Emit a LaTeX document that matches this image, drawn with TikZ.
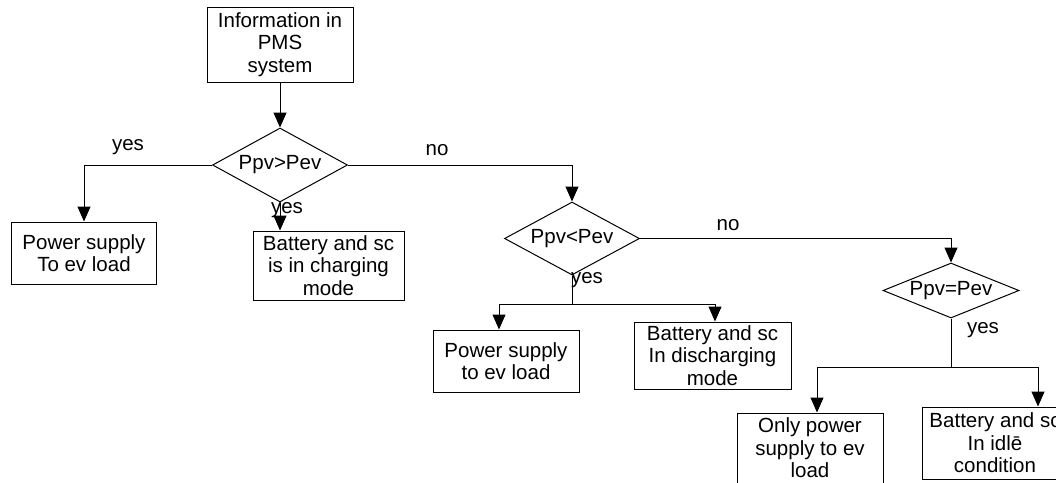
\documentclass[tikz,border=0pt]{standalone}
\usepackage{fontspec}
\setmainfont{Liberation Sans}
\usetikzlibrary{arrows.meta,shapes.geometric}

\begin{document}
\begin{tikzpicture}[x=1pt,y=-1pt,line width=1pt,
    every node/.style={font=\fontsize{20.5}{22.5}\selectfont},
    box/.style={draw,align=center,inner sep=0pt},
    dec/.style={draw,diamond,inner sep=0pt},
    arr/.style={-{Triangle[length=15pt,width=13pt]}}]
    \useasboundingbox (0,0) rectangle (1056,482);

    % Start box
    \node[box,minimum width=146pt,minimum height=75pt] (info) at (280,44.5) {Information in\\PMS\\system};

    % Decisions
    \node[dec,aspect=1.8,minimum width=135pt,minimum height=74pt] (d1) at (280,165) {Ppv>Pev};
    \node[dec,aspect=1.85,minimum width=135pt,minimum height=73pt] (d2) at (572,238.5) {Ppv<Pev};
    \node[dec,aspect=2.45,minimum width=136pt,minimum height=55pt] (d3) at (951,290.5) {Ppv=Pev};

    % Outcome boxes
    \node[box,minimum width=145pt,minimum height=62pt] (b2) at (84,253) {Power supply\\To ev load};
    \node[box,minimum width=151pt,minimum height=69pt] (b3) at (328.5,265.5) {Battery and sc\\is in charging\\mode};
    \node[box,minimum width=146pt,minimum height=62pt] (b4) at (506,361) {Power supply\\to ev load};
    \node[box,minimum width=157pt,minimum height=67pt] (b5) at (712.5,355.5) {Battery and sc\\In discharging\\mode};
    \node[box,minimum width=146pt,minimum height=70pt] (b6) at (810,448) {Only power\\supply to ev\\load};
    \node[box,minimum width=146pt,minimum height=72pt] (b7) at (995,443) {Battery and sc\\In idlē\\condition};

    % Junctions
    \coordinate (j2) at (572,304);
    \coordinate (j3) at (951,367);

    % Connectors
    \draw[arr] (info) -- (d1);
    \draw[arr] (d1.west) -| (b2.north);
    \draw[arr] (d1.south) -- (d1.south |- b3.north);
    \draw[arr] (d1.east) -| (d2.north);
    \draw (d2.south) -- (j2);
    \draw[arr] (j2) -| ([xshift=-7pt]b4.north);
    \draw[arr] (j2) -| ([xshift=2.5pt]b5.north);
    \draw[arr] (d2.east) -| (d3.north);
    \draw (d3.south) -- (j3);
    \draw[arr] (j3) -| ([xshift=7pt]b6.north);
    \draw[arr] (j3) -| ([xshift=43pt]b7.north);

    % Labels
    \node (y1) at (128,147) {yes};
    \node (y2) at (287,210) {yes};
    \node (n1) at (437,150) {no};
    \node (y3) at (587,280) {yes};
    \node (n2) at (728,225) {no};
    \node (y4) at (983,330) {yes};
\end{tikzpicture}
\end{document}
